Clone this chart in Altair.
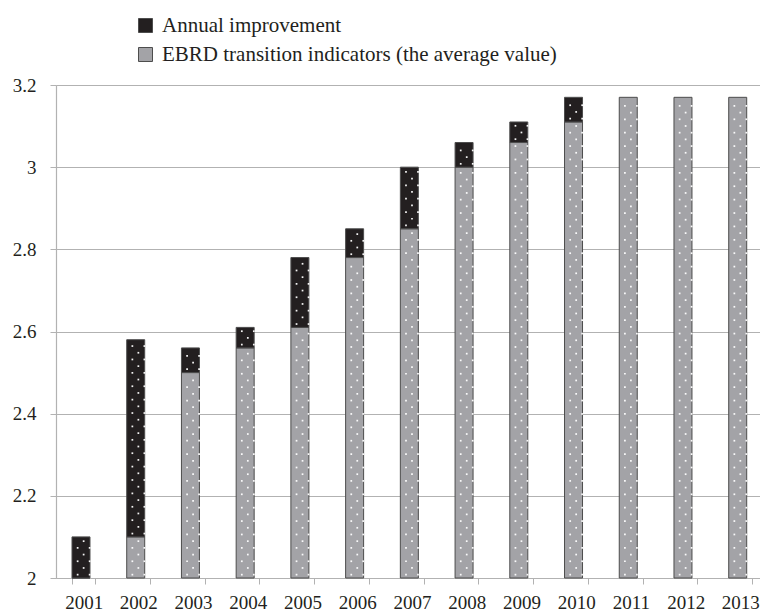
import altair as alt
import pandas as pd

# Average EBRD transition indicator per year and the gain over the previous year
years = [str(y) for y in range(2001, 2014)]
ebrd_level = [2.00, 2.10, 2.50, 2.56, 2.61, 2.78, 2.85, 3.00, 3.06, 3.11, 3.17, 3.17, 3.17]
annual_gain = [0.10, 0.48, 0.06, 0.05, 0.17, 0.07, 0.15, 0.06, 0.05, 0.06, 0.00, 0.00, 0.00]

GAIN = "Annual improvement"
LEVEL = "EBRD transition indicators (the average value)"
Y_MIN, Y_MAX = 2.0, 3.2
y_ticks = [2.0, 2.2, 2.4, 2.6, 2.8, 3.0, 3.2]

FONT = "Liberation Serif"
INK = "#231f20"
GREY_BAR = "#a3a3a7"
RULE = "#b2b2b2"
DOT_STEP = 0.0163  # vertical spacing of the dot texture, in axis units
BAR_HALF = 11.65   # half of the bar width in pixels, to centre the texture

rows = []
for yr, lvl, gain in zip(years, ebrd_level, annual_gain):
    rows.append({"year": yr, "series": LEVEL, "lo": 0.0, "hi": lvl})
    if gain > 0:
        rows.append({"year": yr, "series": GAIN, "lo": lvl, "hi": round(lvl + gain, 4)})
segments = pd.DataFrame(rows)

x_enc = alt.X(
    "year:N",
    sort=years,
    scale=alt.Scale(type="band", paddingInner=0.574, paddingOuter=0.219, align=0.667),
    axis=alt.Axis(
        title=None,
        labelAngle=0,
        tickBand="extent",
        tickSize=6,
        tickColor=RULE,
        domainColor=RULE,
        labelPadding=9,
        labelFont=FONT,
        labelFontSize=19,
        labelColor=INK,
        grid=False,
    ),
)
y_scale = alt.Scale(domain=[Y_MIN, Y_MAX], clamp=True, nice=False, zero=False)

bars = alt.Chart(segments).mark_bar(stroke="#4d4d4d", strokeWidth=1).encode(
    x=x_enc,
    y=alt.Y(
        "hi:Q",
        scale=y_scale,
        axis=alt.Axis(
            title=None,
            values=y_ticks,
            format="~g",
            grid=True,
            gridColor=RULE,
            gridWidth=1.2,
            domainColor=RULE,
            domainWidth=1.2,
            tickColor=RULE,
            tickSize=6,
            labelPadding=14,
            labelFont=FONT,
            labelFontSize=19,
            labelColor=INK,
        ),
    ),
    y2="lo:Q",
    color=alt.Color(
        "series:N",
        scale=alt.Scale(domain=[GAIN, LEVEL], range=[INK, GREY_BAR]),
        legend=alt.Legend(
            title=None,
            orient="none",
            legendX=79,
            legendY=-70,
            symbolType="square",
            symbolSize=196,
            symbolStrokeColor="#4d4d4d",
            symbolStrokeWidth=1,
            symbolOpacity=1,
            labelFont=FONT,
            labelFontSize=21,
            labelColor=INK,
            labelOffset=6,
            labelLimit=600,
            rowPadding=7,
        ),
    ),
)

# Dotted texture: staggered rows of dots, one row every DOT_STEP inside each visible segment
dots = (
    alt.Chart(segments)
    .transform_calculate(vis_lo=f"max(datum.lo, {Y_MIN})")
    .transform_filter("datum.hi > datum.vis_lo")
    .transform_calculate(k=f"sequence(0, floor((datum.hi - datum.vis_lo) / {DOT_STEP}))")
    .transform_flatten(["k"])
    .transform_calculate(
        dot_y=f"datum.vis_lo + (datum.k + 0.5) * {DOT_STEP}",
        col="datum.k % 2 == 0 ? [-1, 1] : [0]",
    )
    .transform_flatten(["col"])
    .mark_square(size=3, color="white", opacity=0.95)
    .encode(
        x=alt.X("year:N", sort=years),
        xOffset=alt.XOffset(
            "col:Q", scale=alt.Scale(domain=[-1, 1], range=[BAR_HALF - 6, BAR_HALF + 6])
        ),
        y=alt.Y("dot_y:Q", scale=y_scale),
    )
)

chart = (
    alt.layer(bars, dots)
    .properties(
        width=704,
        height=493,
        autosize=alt.AutoSizeParams(type="none"),
        padding={"left": 56, "top": 85, "right": 0, "bottom": 34},
    )
    .configure_view(stroke=None)
    .configure(font=FONT)
)

chart.save("out.html", embed_options={"renderer": "svg", "actions": False})
